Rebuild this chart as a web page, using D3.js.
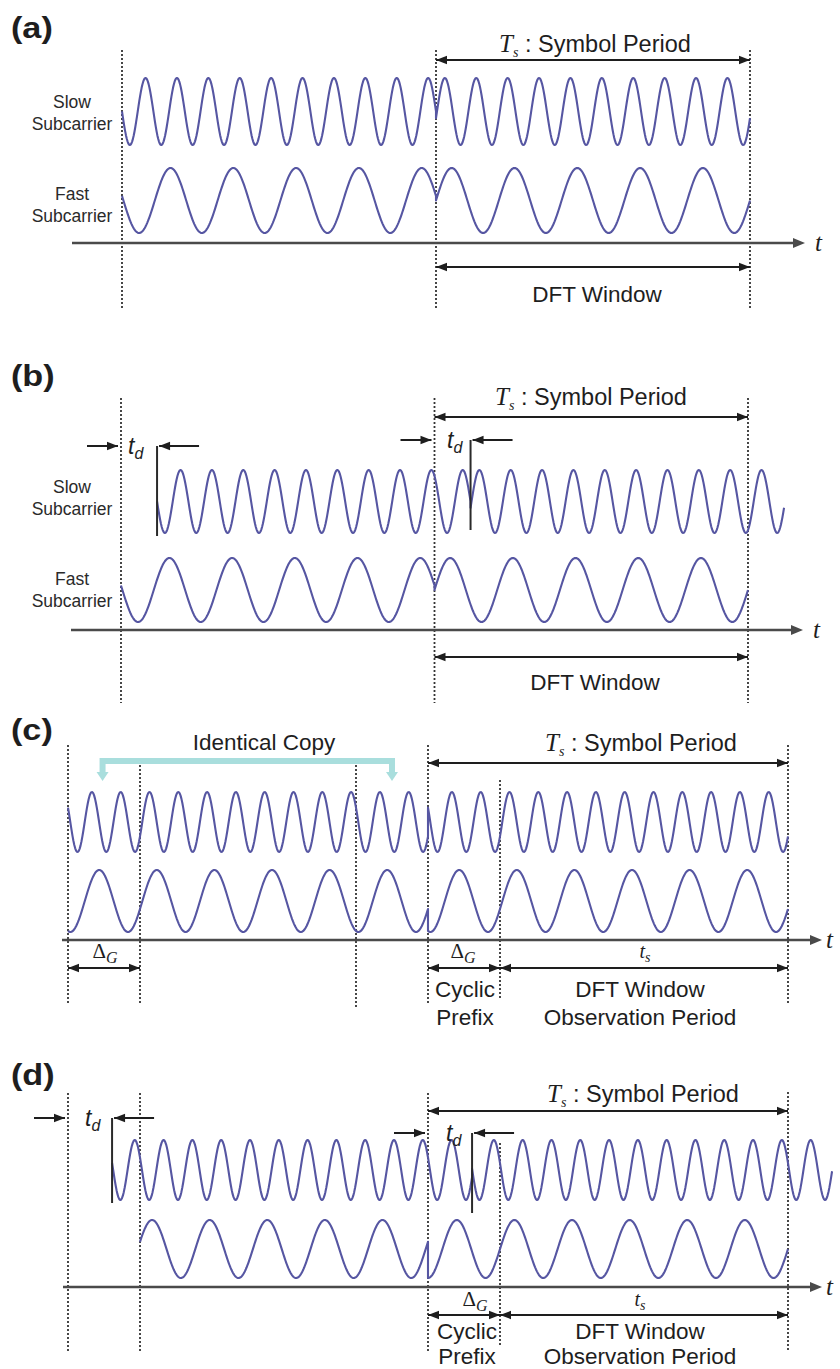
<!DOCTYPE html>
<html><head><meta charset="utf-8">
<script src="https://cdn.jsdelivr.net/npm/d3@7"></script>
<style>body{margin:0;background:#fff}</style>
</head><body>
<svg id="fig" width="840" height="1369" xmlns="http://www.w3.org/2000/svg"></svg>
<script>
// ---------------- DATA ----------------
// time unit = one DFT window (useful symbol length)
const panelLabels = ["(a)", "(b)", "(c)", "(d)"];
const upperCycles = 10;   // cycles of upper trace per DFT window
const lowerCycles = 5;    // cycles of lower trace per DFT window
// waveform segments per panel: [start, end, phase(rad)]
const upperA = [[0, 1, 3.14], [1, 2, -0.2]];
const lowerA = [[0, 1, 3.0], [1, 2, 0]];
const upperB = [[0.115, 1.115, 3.14], [1.115, 2.115, -0.2]];
const lowerB = [[0, 1, 3.0], [1, 2, 0]];
const upperC = [[0, 1.25, 2.64], [1.25, 2.5, 2.64]];
const lowerC = [[0, 1.25, 4.45], [1.25, 2.5, 4.45]];
const upperD = [[0.153, 1.403, 2.9], [1.403, 2.653, 3.1]];
const lowerD = [[0.25, 1.25, 0.25], [1.25, 2.5, 4.71]];
const delayB = 0.115;      // t_d in panel (b)
const delayD = 0.153;      // t_d in panel (d)
const guard = 0.25;        // Delta_G
const boundariesAB = [0, 1, 2];
const boundariesC = [0, 0.25, 1.0, 1.25, 1.5, 2.5];
const boundariesD = [0, 0.25, 1.25, 1.5, 2.5];
const labelSlow = ["Slow", "Subcarrier"];
const labelFast = ["Fast", "Subcarrier"];

// ---------------- LAYOUT ----------------
const svg = d3.select("#fig");
const WAVE = "#5656a2", INK = "#1e1e1e", DOT = "#333", AX = "#4a4a4a";
const SANS = "'Liberation Sans', Arial, sans-serif";
const SERIF = "'Liberation Serif', 'Times New Roman', serif";

function arrowHead(x, y, dir) { // dir = +1 points right, -1 points left
  const L = 11, W = 4.2;
  svg.append("path")
    .attr("d", `M${x},${y} L${x - dir * L},${y - W} L${x - dir * L},${y + W} Z`)
    .attr("fill", INK);
}
function hArrow(x1, x2, y, both = true, dir = 1) {
  svg.append("line").attr("x1", x1).attr("x2", x2).attr("y1", y).attr("y2", y)
    .attr("stroke", INK).attr("stroke-width", 2);
  if (both) { arrowHead(Math.min(x1, x2), y, -1); arrowHead(Math.max(x1, x2), y, 1); }
  else arrowHead(x2, y, dir);
}
function dotted(x, y1, y2) {
  svg.append("line").attr("x1", x).attr("x2", x).attr("y1", y1).attr("y2", y2)
    .attr("stroke", DOT).attr("stroke-width", 1.8).attr("stroke-dasharray", "2,2");
}
function axis(x1, x2, y) {
  svg.append("line").attr("x1", x1).attr("x2", x2 - 8).attr("y1", y).attr("y2", y)
    .attr("stroke", AX).attr("stroke-width", 2.6);
  svg.append("path").attr("d", `M${x2},${y} L${x2 - 12},${y - 5} L${x2 - 12},${y + 5} Z`).attr("fill", AX);
  svg.append("text").attr("x", Math.min(x2 + 10, 826)).attr("y", y + 8)
    .attr("font-family", SERIF).attr("font-style", "italic").attr("font-size", 25).attr("fill", INK).text("t");
}
function wave(x, y, segs, cycles) {
  const pts = [];
  segs.forEach(([a, b, ph]) => {
    const n = 400;
    for (let i = 0; i <= n; i++) {
      const t = a + (b - a) * i / n;
      pts.push([x(t), y(Math.sin(2 * Math.PI * cycles * (t - a) + ph))]);
    }
  });
  svg.append("path").attr("d", d3.line()(pts)).attr("fill", "none")
    .attr("stroke", WAVE).attr("stroke-width", 2.1).attr("stroke-linejoin", "round");
}
function panelLabel(txt, y) {
  svg.append("text").attr("x", 11).attr("y", y).attr("font-family", SANS).attr("font-weight", "bold")
    .attr("font-size", 29).attr("fill", INK)
    .attr("transform", `translate(11,${y}) scale(1.18,1) translate(-11,${-y})`).text(txt);
}
function sideLabel(lines, x, y) {
  lines.forEach((s, i) => svg.append("text").attr("x", x).attr("y", y + i * 22)
    .attr("text-anchor", "middle").attr("font-family", SANS).attr("font-size", 17.5).attr("fill", "#2a2a2a").text(s));
}
function plain(s, x, y, size = 22.5) {
  svg.append("text").attr("x", x).attr("y", y).attr("text-anchor", "middle")
    .attr("font-family", SANS).attr("font-size", size).attr("fill", INK).text(s);
}
function tsLabel(x, y) {
  const t = svg.append("text").attr("x", x).attr("y", y).attr("text-anchor", "middle").attr("fill", INK);
  t.append("tspan").attr("font-family", SERIF).attr("font-style", "italic").attr("font-size", 25).text("T");
  t.append("tspan").attr("font-family", SERIF).attr("font-style", "italic").attr("font-size", 14).attr("dy", 5).text("s");
  t.append("tspan").attr("font-family", SANS).attr("font-size", 23.5).attr("dy", -5).text(" : Symbol Period");
}
function deltaG(x, y) {
  const t = svg.append("text").attr("x", x).attr("y", y).attr("text-anchor", "middle").attr("fill", INK);
  t.append("tspan").attr("font-family", SERIF).attr("font-size", 21).text("\u0394");
  t.append("tspan").attr("font-family", SERIF).attr("font-style", "italic").attr("font-size", 16).attr("dy", 5).text("G");
}
function smallTs(x, y) {
  const t = svg.append("text").attr("x", x).attr("y", y).attr("text-anchor", "middle").attr("fill", INK);
  t.append("tspan").attr("font-family", SERIF).attr("font-style", "italic").attr("font-size", 20).text("t");
  t.append("tspan").attr("font-family", SERIF).attr("font-style", "italic").attr("font-size", 14).attr("dy", 4).text("s");
}
function tdLabel(x, y) {
  const t = svg.append("text").attr("x", x).attr("y", y).attr("fill", INK);
  t.append("tspan").attr("font-family", SANS).attr("font-style", "italic").attr("font-size", 23).text("t");
  t.append("tspan").attr("font-family", SANS).attr("font-style", "italic").attr("font-size", 16).attr("dy", 5).text("d");
}
// delay marker: → |dotted| t_d ←┐ with vertical bar down
function delayMarker(x, start, td, y, yBottom, tdx) {
  const s = x(start), d = x(start + td);
  hArrow(s - 34, s - 3, y, false, 1);
  tdLabel(tdx, y + 8);
  hArrow(d + 42, d + 2, y, false, -1);
  svg.append("line").attr("x1", d).attr("x2", d).attr("y1", y).attr("y2", yBottom)
    .attr("stroke", "#2a2a2a").attr("stroke-width", 2);
}

// ================= Panel (a) =================
{
  const x = d3.scaleLinear().domain([0, 2]).range([122, 750]);
  const yU = d3.scaleLinear().domain([-1, 1]).range([145, 78]);
  const yL = d3.scaleLinear().domain([-1, 1]).range([233, 168]);
  panelLabel(panelLabels[0], 38);
  boundariesAB.forEach(t => dotted(x(t), 50, 310));
  axis(72, 805, 243);
  wave(x, yU, upperA, upperCycles);
  wave(x, yL, lowerA, lowerCycles);
  hArrow(x(1), x(2), 60);
  tsLabel(595, 52);
  hArrow(x(1), x(2), 267);
  plain("DFT Window", 597, 302);
  sideLabel(labelSlow, 72, 108);
  sideLabel(labelFast, 72, 200);
}
// ================= Panel (b) =================
{
  const x = d3.scaleLinear().domain([0, 2]).range([121, 748]);
  const yU = d3.scaleLinear().domain([-1, 1]).range([533, 470]);
  const yL = d3.scaleLinear().domain([-1, 1]).range([622, 558]);
  panelLabel(panelLabels[1], 386);
  boundariesAB.forEach(t => dotted(x(t), 398, 703));
  axis(71, 803, 630);
  wave(x, yU, upperB, upperCycles);
  wave(x, yL, lowerB, lowerCycles);
  hArrow(x(1), x(2), 417);
  tsLabel(591, 405);
  hArrow(x(1), x(2), 657);
  plain("DFT Window", 595, 690);
  delayMarker(x, 0, delayB, 446, 536, 128);
  delayMarker(x, 1, delayB, 440, 530, 447);
  sideLabel(labelSlow, 72, 493);
  sideLabel(labelFast, 72, 585);
}
// ================= Panel (c) =================
{
  const x = d3.scaleLinear().domain([0, 2.5]).range([68, 788]);
  const yU = d3.scaleLinear().domain([-1, 1]).range([852, 792]);
  const yL = d3.scaleLinear().domain([-1, 1]).range([932, 870]);
  panelLabel(panelLabels[2], 740);
  const tops = [745, 765, 765, 745, 780, 745];
  const bots = [1005, 1005, 1008, 1005, 1000, 1005];
  boundariesC.forEach((t, i) => dotted(x(t), tops[i], bots[i]));
  // identical-copy bracket
  const b1 = x(guard / 2 - 0.005), b2 = x(1 + guard / 2);
  svg.append("path").attr("d", `M${b1},776 L${b1},761 L${b2},761 L${b2},776`)
    .attr("fill", "none").attr("stroke", "#a9dedd").attr("stroke-width", 6);
  [b1, b2].forEach(bx => svg.append("path")
    .attr("d", `M${bx - 6},772 L${bx + 6},772 L${bx},781 Z`).attr("fill", "#a9dedd"));
  plain("Identical Copy", 264, 750);
  axis(62, 822, 940);
  wave(x, yU, upperC, upperCycles);
  wave(x, yL, lowerC, lowerCycles);
  hArrow(x(1.25), x(2.5), 763);
  tsLabel(641, 751);
  hArrow(x(0), x(guard), 968);
  deltaG(105, 958);
  hArrow(x(1.25), x(1.25 + guard), 968);
  deltaG(463, 958);
  hArrow(x(1.25 + guard), x(2.5), 968);
  smallTs(645, 958);
  plain("Cyclic", 465, 997);
  plain("Prefix", 465, 1025);
  plain("DFT Window", 640, 997);
  plain("Observation Period", 640, 1025);
}
// ================= Panel (d) =================
{
  const x = d3.scaleLinear().domain([0, 2.5]).range([68, 788]);
  const yU = d3.scaleLinear().domain([-1, 1]).range([1200, 1140]);
  const yL = d3.scaleLinear().domain([-1, 1]).range([1278, 1220]);
  panelLabel(panelLabels[3], 1085);
  const tops = [1093, 1093, 1093, 1143, 1092];
  const bots = [1352, 1352, 1352, 1347, 1352];
  boundariesD.forEach((t, i) => dotted(x(t), tops[i], bots[i]));
  axis(63, 822, 1287);
  wave(x, yU, upperD, upperCycles);
  wave(x, yL, lowerD, lowerCycles);
  hArrow(x(1.25), x(2.5), 1111);
  tsLabel(643, 1102);
  delayMarker(x, 0, delayD, 1118, 1203, 85);
  delayMarker(x, 1.25, delayD, 1133, 1213, 446);
  hArrow(x(1.25), x(1.25 + guard), 1315);
  deltaG(475, 1306);
  hArrow(x(1.25 + guard), x(2.5), 1315);
  smallTs(640, 1306);
  plain("Cyclic", 467, 1339);
  plain("Prefix", 467, 1364);
  plain("DFT Window", 640, 1339);
  plain("Observation Period", 640, 1364);
}
</script>
</body></html>
